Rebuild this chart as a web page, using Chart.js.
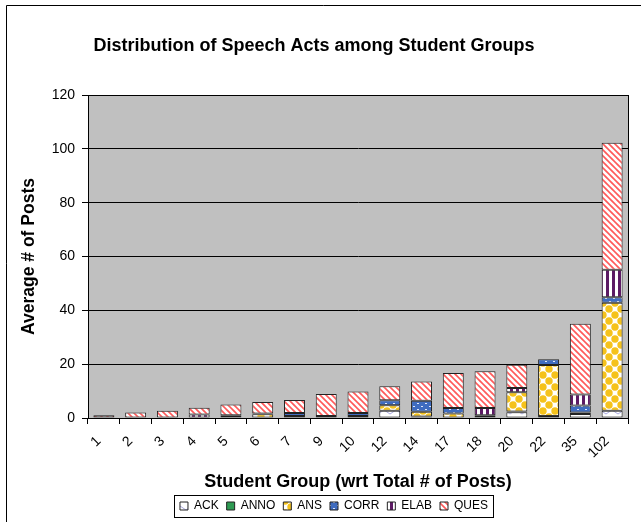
<!DOCTYPE html>
<html>
<head>
<meta charset="utf-8">
<script src="https://cdn.jsdelivr.net/npm/chart.js@4"></script>
<style>
  html, body { margin: 0; padding: 0; background: #fff; }
  #wrap { width: 641px; height: 522px; position: relative; }
</style>
</head>
<body>
<div id="wrap"><canvas id="speech-acts-chart"></canvas></div>
<script>
// student groups (total # of posts) and average posts per speech act
const groups = ['1', '2', '3', '4', '5', '6', '7', '9', '10', '12', '14', '17', '18', '20', '22', '35', '102'];
const ack  = [0, 0, 0, 0, 0, 0, 0, 0, 0.7, 2.7, 0.6, 0, 0.4, 2.1, 0.7, 1.5, 2.7];
const anno = [0, 0, 0, 0, 0, 0, 0, 0, 0, 0, 0, 0, 0, 0.3, 0, 0, 0];
const ans  = [0, 0, 0, 0, 0.7, 1.4, 0.75, 0.75, 0, 2.0, 1.7, 1.7, 0.6, 7.2, 19, 0.5, 40.1];
const corr = [0, 0, 0, 0, 0, 0, 1.1, 0, 1.2, 1.9, 4.1, 2.0, 0, 0, 2.1, 2.6, 2.1];
const elab = [0, 0, 0, 1.3, 0.3, 0.3, 0, 0, 0, 0, 0, 0, 2.7, 1.5, 0, 4.1, 10.2];
const ques = [1.0, 2.0, 2.7, 2.5, 4.0, 4.2, 4.8, 8.2, 7.9, 5.2, 7.2, 13.0, 13.7, 8.7, 0, 26.3, 47.2];
const yTicks = [0, 20, 40, 60, 80, 100, 120];

const FONT = "'Liberation Sans', Arial, sans-serif";

// small tiles used as fill patterns (Excel-ish)
function tile(w, h, draw) {
  const c = document.createElement('canvas');
  c.width = w; c.height = h;
  const g = c.getContext('2d');
  draw(g, w, h);
  return g.createPattern(c, 'repeat');
}

const fills = {
  ack: tile(12, 8, (g, w, h) => {
    g.fillStyle = '#fff'; g.fillRect(0, 0, w, h);
    g.strokeStyle = '#a9a9e0'; g.lineWidth = 1;
    g.beginPath(); g.moveTo(0, 2); g.lineTo(6, 6); g.lineTo(12, 2); g.stroke();
  }),
  anno: '#2e9a52',
  ans: tile(12, 12, (g, w, h) => {
    g.fillStyle = '#fff'; g.fillRect(0, 0, w, h);
    g.fillStyle = '#f5c21b';
    [[3, 3], [9, 9], [9, -3], [-3, 9], [15, 3], [3, 15]].forEach(([x, y]) => {
      g.beginPath(); g.arc(x, y, 3.7, 0, Math.PI * 2); g.fill();
    });
  }),
  corr: tile(8, 6, (g, w, h) => {
    g.fillStyle = '#3f6cc0'; g.fillRect(0, 0, w, h);
    g.fillStyle = '#dfe8f8';
    g.fillRect(1, 1, 2, 1); g.fillRect(5, 4, 2, 1);
  }),
  elab: tile(6, 6, (g, w, h) => {
    g.fillStyle = '#fff'; g.fillRect(0, 0, w, h);
    g.fillStyle = '#5c1a64'; g.fillRect(0, 0, 3, h);
  }),
  ques: tile(6, 6, (g, w, h) => {
    g.fillStyle = '#fff'; g.fillRect(0, 0, w, h);
    g.strokeStyle = '#ff5a5a'; g.lineWidth = 1.6;
    g.beginPath();
    g.moveTo(-3, 0); g.lineTo(9, 12);
    g.moveTo(-3, -6); g.lineTo(9, 6);
    g.moveTo(-3, -12); g.lineTo(9, 0);
    g.stroke();
  })
};

const nz = arr => arr.map(v => (v ? v : null));

function series(label, data, fill) {
  return {
    label: label,
    data: nz(data),
    backgroundColor: fill,
    borderColor: '#222',
    borderWidth: 1,
    borderSkipped: false,
    categoryPercentage: 1,
    barPercentage: 0.66
  };
}

// grey plot area, frame around it, the outer chart frame and the legend box
const frame = {
  id: 'frame',
  afterLayout(chart) {
    // legend sits a bit right of the canvas centre in the original
    chart.legend.left += 20;
    chart.legend.right += 20;
  },
  beforeDraw(chart) {
    const a = chart.chartArea, ctx = chart.ctx;
    ctx.save();
    ctx.fillStyle = '#c0c0c0';
    ctx.fillRect(a.left, a.top, a.right - a.left, a.bottom - a.top);
    ctx.restore();
  },
  afterDraw(chart) {
    const a = chart.chartArea, ctx = chart.ctx;
    ctx.save();
    ctx.strokeStyle = '#000';
    ctx.lineWidth = 1;
    ctx.strokeRect(Math.round(a.left) + 0.5, Math.round(a.top) + 0.5, Math.round(a.right - a.left), Math.round(a.bottom - a.top));
    ctx.beginPath();
    ctx.moveTo(6.5, 522); ctx.lineTo(6.5, 5.5); ctx.lineTo(641, 5.5);
    ctx.stroke();
    const boxes = chart.legend.legendHitBoxes;
    if (boxes && boxes.length) {
      const l = boxes[0].left - 6;
      const last = boxes[boxes.length - 1];
      const r = last.left + last.width + 5;
      const cy = boxes[0].top + boxes[0].height / 2;
      ctx.strokeRect(Math.round(l) + 0.5, Math.round(cy - 11) + 0.5, Math.round(r - l), 22);
    }
    ctx.restore();
  }
};

new Chart(document.getElementById('speech-acts-chart'), {
  type: 'bar',
  data: {
    labels: groups,
    datasets: [
      series('ACK', ack, fills.ack),
      series('ANNO', anno, fills.anno),
      series('ANS', ans, fills.ans),
      series('CORR', corr, fills.corr),
      series('ELAB', elab, fills.elab),
      series('QUES', ques, fills.ques)
    ]
  },
  options: {
    responsive: true,
    maintainAspectRatio: false,
    animation: false,
    layout: { padding: { top: 0, left: 0, right: 13, bottom: 0 } },
    plugins: {
      title: {
        display: true,
        text: 'Distribution of Speech Acts among Student Groups',
        color: '#000',
        font: { family: FONT, size: 18, weight: 'bold' },
        padding: { top: 35, bottom: 38.4 }
      },
      legend: {
        position: 'bottom',
        labels: {
          color: '#000',
          font: { family: FONT, size: 12 },
          boxWidth: 8,
          boxHeight: 8,
          padding: 8
        }
      },
      tooltip: { enabled: false }
    },
    scales: {
      x: {
        stacked: true,
        afterFit: s => { s.height = 74; },
        grid: { drawOnChartArea: false, drawTicks: true, tickLength: 6, color: '#000', offset: true },
        border: { color: '#000' },
        ticks: {
          color: '#000',
          font: { family: FONT, size: 14 },
          autoSkip: false,
          minRotation: 45,
          maxRotation: 45,
          padding: 9,
          labelOffset: -5
        },
        title: {
          display: true,
          text: 'Student Group (wrt Total # of Posts)',
          color: '#000',
          font: { family: FONT, size: 18, weight: 'bold' },
          padding: { top: 0, bottom: -1 }
        }
      },
      y: {
        stacked: true,
        min: 0,
        max: 120,
        afterFit: s => { s.width = 88; },
        afterBuildTicks: s => { s.ticks = yTicks.map(v => ({ value: v })); },
        grid: { color: '#000', tickLength: 6, drawTicks: true },
        border: { color: '#000' },
        ticks: {
          color: '#000',
          font: { family: FONT, size: 14 },
          padding: 7
        },
        title: {
          display: true,
          text: 'Average # of Posts',
          color: '#000',
          font: { family: FONT, size: 17.5, weight: 'bold' },
          padding: { top: 19, bottom: 0 }
        }
      }
    }
  },
  plugins: [frame]
});
</script>
</body>
</html>
